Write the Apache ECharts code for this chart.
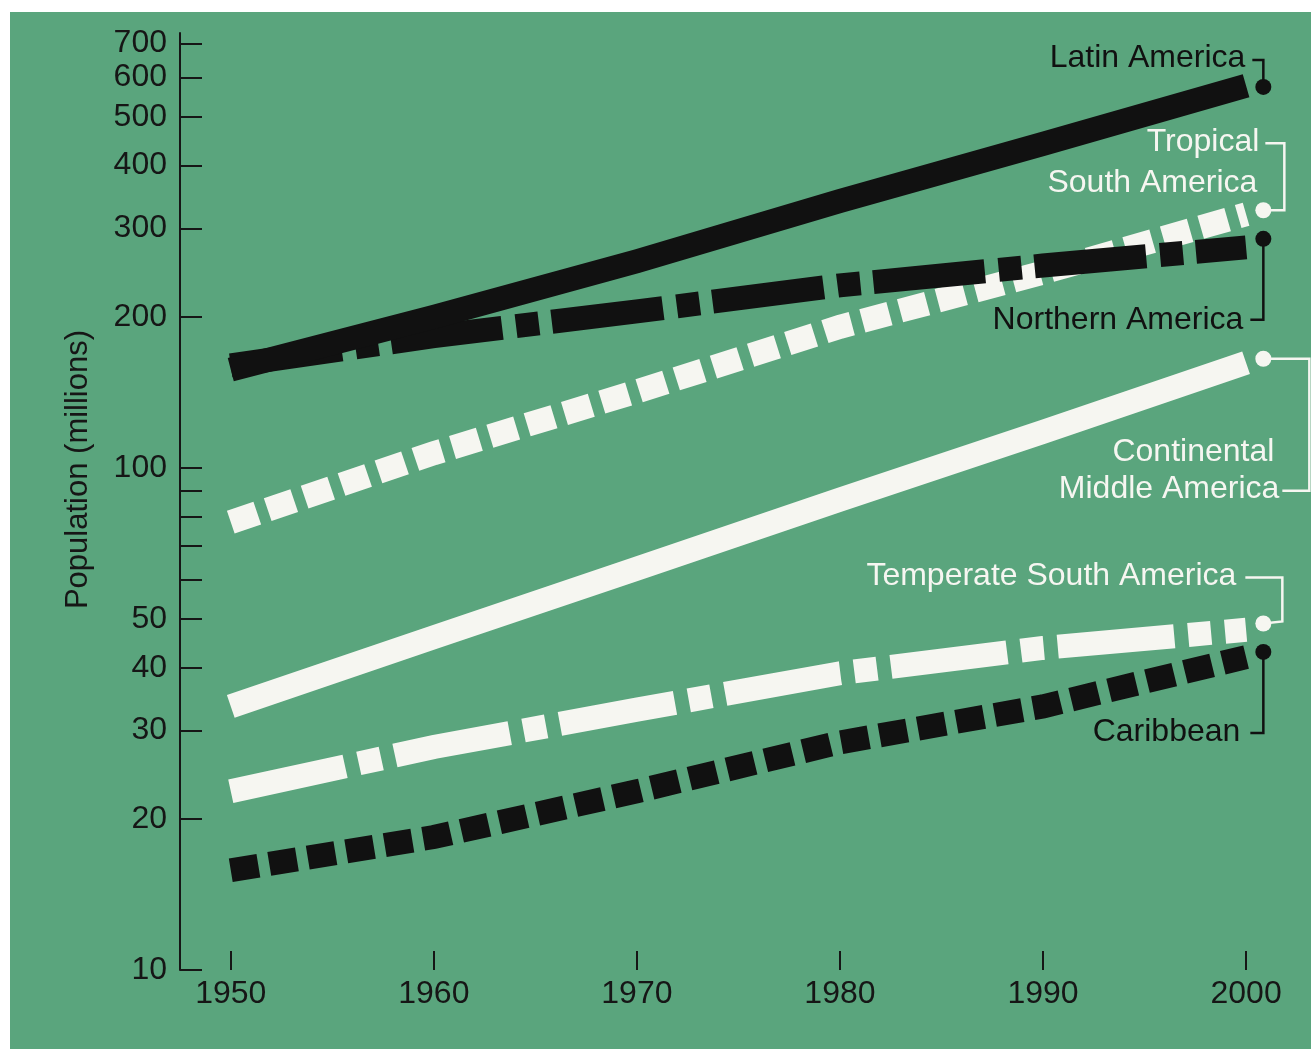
<!DOCTYPE html>
<html><head><meta charset="utf-8">
<script src="https://cdn.jsdelivr.net/npm/echarts@6/dist/echarts.min.js"></script>
<style>
html,body{margin:0;padding:0;background:#fff;width:1311px;height:1049px;overflow:hidden}
#chart{position:absolute;left:10px;top:12px;width:1301px;height:1037px;}
</style></head>
<body><div id="chart"></div>
<script>
// ---- data ----
const years = [1950, 1960, 1970, 1980, 1990, 2000];
const latinAmerica = [157, 200, 258, 340, 442, 577];
const northernAmerica = [160, 183, 205, 231, 253, 275];
const tropicalSouthAmerica = [78, 107, 142, 191, 245, 320];
const continentalMiddleAmerica = [33.5, 46, 63, 86.5, 118, 162];
const temperateSouthAmerica = [22.7, 27.8, 33, 39, 43.8, 47.6];
const caribbean = [15.8, 18.4, 22.7, 28.4, 33.5, 42];
const yTickValues = [10, 20, 30, 40, 50, 60, 70, 80, 90, 100, 200, 300, 400, 500, 600, 700];
const yLabelValues = [10, 20, 30, 40, 50, 100, 200, 300, 400, 500, 600, 700];
const xTickValues = [1950, 1960, 1970, 1980, 1990, 2000];
const labelTexts = [
  ['Latin America'],
  ['Tropical', 'South America'],
  ['Northern America'],
  ['Continental', 'Middle America'],
  ['Temperate South America'],
  ['Caribbean']
];
const dotYear = 2000.85;
const dotValues = [574, 326, 286, 165, 49, 43];

// ---- styles ----
const FONT = '"Liberation Sans", Arial, sans-serif';
const BLACK = '#111111';
const WHITE = '#f6f6f1';
const INK = '#161616';
const dotColors = [BLACK, WHITE, BLACK, WHITE, WHITE, BLACK];
const labelLayout = [
  {text: [[-18, -29]], bracket: [[-11, -27], [0, -27], [0, 0]]},
  {text: [[-4, -68], [-6, -27]], bracket: [[2, -67], [21, -67], [21, 0], [0, 0]]},
  {text: [[-20, 81]], bracket: [[0, 0], [0, 81], [-13, 81]]},
  {text: [[11, 93], [16, 130]], bracket: [[0, 0], [46, 0], [46, 132], [19, 132]]},
  {text: [[-27, -47]], bracket: [[-18, -46], [19, -46], [19, -2], [0, 0]]},
  {text: [[-23, 80]], bracket: [[0, 0], [0, 81], [-13, 81]]}
];

function lineSeries(name, data, color, dash, z) {
  return {
    type: 'line', name: name, z: z, silent: true,
    data: years.map((y, i) => [y, data[i]]),
    showSymbol: false, symbol: 'none',
    lineStyle: {color: color, width: 24, type: dash || 'solid', cap: 'butt', join: 'miter'}
  };
}

const chart = echarts.init(document.getElementById('chart'), null, {renderer: 'canvas'});
const option = {
  animation: false,
  backgroundColor: '#5aa57d',
  grid: {left: 170, top: 21, right: 4, bottom: 79},
  xAxis: {
    type: 'value', min: 1947.5, max: 2003,
    axisLine: {show: false},
    axisTick: {show: true, inside: true, length: 19, customValues: xTickValues, lineStyle: {color: INK, width: 2}},
    axisLabel: {customValues: xTickValues, margin: 8, fontSize: 32, fontFamily: FONT, color: INK,
      formatter: v => String(v)},
    splitLine: {show: false}
  },
  yAxis: {
    type: 'log', logBase: 10, min: 10, max: 735,
    name: 'Population (millions)', nameLocation: 'middle', nameGap: 86, nameRotate: 90,
    nameTextStyle: {fontSize: 31, fontFamily: FONT, color: INK, padding: [0, 0, 0, 64]},
    axisLine: {show: true, lineStyle: {color: INK, width: 2}},
    axisTick: {show: true, inside: true, length: 22, customValues: yTickValues, lineStyle: {color: INK, width: 2}},
    axisLabel: {customValues: yLabelValues, margin: 13, fontSize: 32, fontFamily: FONT, color: INK,
      formatter: v => String(v)},
    splitLine: {show: false},
    minorTick: {show: false}
  },
  series: [
    lineSeries('Caribbean', caribbean, BLACK, [28, 11], 2),
    lineSeries('Temperate South America', temperateSouthAmerica, WHITE, [117, 14, 23, 14], 2),
    lineSeries('Continental Middle America', continentalMiddleAmerica, WHITE, 'solid', 2),
    lineSeries('Tropical South America', tropicalSouthAmerica, WHITE, [28, 11], 2),
    lineSeries('Northern America', northernAmerica, BLACK, [112, 14, 23, 13], 3),
    lineSeries('Latin America', latinAmerica, BLACK, 'solid', 4),
    {
      type: 'scatter', z: 6, silent: true, symbolSize: 16,
      data: dotValues.map((v, i) => ({value: [dotYear, v], itemStyle: {color: dotColors[i], opacity: 1}}))
    }
  ]
};
chart.setOption(option);

const g = [];
labelTexts.forEach((lines, i) => {
  const p = chart.convertToPixel({gridIndex: 0}, [dotYear, dotValues[i]]);
  const L = labelLayout[i];
  const col = dotColors[i];
  g.push({
    type: 'polyline', z: 5, silent: true,
    shape: {points: L.bracket.map(d => [p[0] + d[0], p[1] + d[1]])},
    style: {stroke: col, lineWidth: 2.5, fill: null}
  });
  lines.forEach((t, j) => {
    g.push({
      type: 'text', z: 5, silent: true,
      x: p[0] + L.text[j][0], y: p[1] + L.text[j][1],
      style: {text: t, fill: col, fontSize: 32, fontFamily: FONT, align: 'right', verticalAlign: 'middle'}
    });
  });
});
chart.setOption({graphic: g});
</script>
</body></html>
